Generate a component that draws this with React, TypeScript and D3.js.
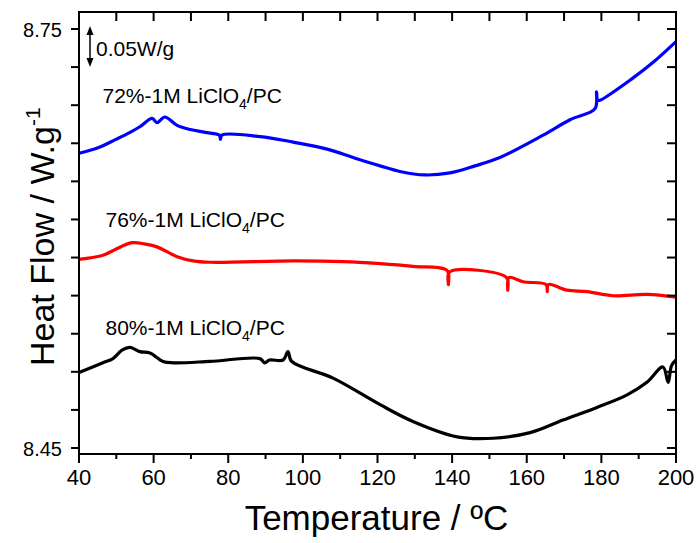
import React from "react";
import * as d3 from "d3";

// DSC heat-flow traces (temperature in °C, heat flow in W/g, offset stacked)
const temp72 = [40, 45.1, 49.9, 53.7, 56.3, 59.6, 60.9, 63.0, 66.3, 69.8, 73.8, 77.6, 77.9, 78.3, 88.5, 97.4, 106.5, 114.0, 120.7, 126.0, 132.7, 139.4, 146.1, 152.8, 164.4, 171.6, 178.3, 178.7, 179.0, 179.6, 188.5, 193.8, 200];
const flow72 = [8.661, 8.665, 8.671, 8.676, 8.680, 8.686, 8.683, 8.687, 8.681, 8.678, 8.676, 8.674, 8.671, 8.674, 8.673, 8.669, 8.664, 8.6575, 8.652, 8.648, 8.6455, 8.647, 8.652, 8.658, 8.674, 8.685, 8.693, 8.705, 8.699, 8.699, 8.715, 8.726, 8.741];

const temp76 = [40, 46.4, 49.6, 54.2, 57.7, 60.9, 66.3, 70.6, 75.1, 97.4, 110.8, 120.7, 129.5, 138.7, 139.0, 139.3, 154.6, 154.9, 155.2, 159.0, 165.2, 165.5, 165.8, 170.8, 176.2, 183.1, 192.2, 200];
const flow76 = [8.585, 8.588, 8.592, 8.597, 8.596, 8.594, 8.587, 8.584, 8.583, 8.584, 8.5835, 8.582, 8.580, 8.577, 8.567, 8.576, 8.572, 8.563, 8.572, 8.569, 8.567, 8.562, 8.567, 8.563, 8.562, 8.559, 8.560, 8.558];

const temp80 = [40, 46.4, 49.1, 51.5, 53.7, 56.3, 59.0, 62.5, 65.2, 75.1, 88.5, 89.8, 91.0, 94.7, 96.0, 97.0, 108.1, 120.7, 129.5, 141.3, 151.0, 160.9, 169.7, 178.8, 186.9, 192.2, 196.5, 197.9, 198.8, 200];
const flow80 = [8.504, 8.511, 8.514, 8.520, 8.522, 8.519, 8.518, 8.512, 8.511, 8.512, 8.514, 8.511, 8.513, 8.513, 8.519, 8.512, 8.500, 8.481, 8.469, 8.458, 8.457, 8.461, 8.470, 8.479, 8.488, 8.497, 8.508, 8.497, 8.509, 8.513];

const seriesNames = ["72%-1M LiClO", "76%-1M LiClO", "80%-1M LiClO"];
const seriesColors = ["#0000ff", "#ff0000", "#000000"];

const xTicks = [40, 60, 80, 100, 120, 140, 160, 180, 200];
const xMinorTicks = [50, 70, 90, 110, 130, 150, 170, 190];
const yLabelTicks = [8.75, 8.45];
const yTickCount = 12;

const W = 697;
const H = 543;
const left = 79;
const right = 676;
const top = 12;
const bottom = 454;

const font = "'Liberation Sans', Arial, Helvetica, sans-serif";

export default function App() {
  const x = d3.scaleLinear().domain([40, 200]).range([left, right]);
  const y = d3.scaleLinear().domain([8.45, 8.75]).range([448, 29]);

  const yTicks = d3.range(yTickCount).map((i) => 8.75 - (i * (8.75 - 8.45)) / (yTickCount - 1));
  const topTicks = d3.range(40, 201, 10);

  const line = d3
    .line<[number, number]>()
    .x((d) => x(d[0]))
    .y((d) => y(d[1]))
    .curve(d3.curveCatmullRom.alpha(0.5));

  const series = [
    { t: temp72, f: flow72 },
    { t: temp76, f: flow76 },
    { t: temp80, f: flow80 },
  ];

  // label anchor points (temperature, heat flow) for each trace
  const labelPos: [number, number][] = [
    [46.3, 8.6968],
    [47.1, 8.6085],
    [47.1, 8.5307],
  ];

  return (
    <svg
      width={W}
      height={H}
      style={{ position: "absolute", left: 0, top: 0, background: "#fff" }}
      fontFamily={font}
    >
      <rect x={0} y={0} width={W} height={H} fill="#fff" />

      {/* traces */}
      {series.map((s, i) => (
        <path
          key={i}
          d={line(s.t.map((t, j) => [t, s.f[j]] as [number, number])) || ""}
          fill="none"
          stroke={seriesColors[i]}
          strokeWidth={3.2}
          strokeLinejoin="round"
        />
      ))}

      {/* frame */}
      <rect x={left} y={top} width={right - left} height={bottom - top} fill="none" stroke="#000" strokeWidth={2} />

      {/* left ticks (outward) and right ticks (inward) */}
      {yTicks.map((v, i) => (
        <g key={i}>
          <line x1={left - 8} x2={left} y1={y(v)} y2={y(v)} stroke="#000" strokeWidth={2} />
          <line x1={right - 9} x2={right} y1={y(v)} y2={y(v)} stroke="#000" strokeWidth={2} />
        </g>
      ))}
      {yLabelTicks.map((v) => (
        <text key={v} x={62} y={y(v) + 8} textAnchor="end" fontSize={20} fill="#000">
          {v.toFixed(2)}
        </text>
      ))}

      {/* bottom ticks */}
      {xTicks.map((v) => (
        <g key={v}>
          <line x1={x(v)} x2={x(v)} y1={bottom} y2={bottom + 9} stroke="#000" strokeWidth={2} />
          <text x={x(v)} y={485} textAnchor="middle" fontSize={22} fill="#000">
            {v}
          </text>
        </g>
      ))}
      {xMinorTicks.map((v) => (
        <line key={v} x1={x(v)} x2={x(v)} y1={bottom} y2={bottom + 5} stroke="#000" strokeWidth={2} />
      ))}
      {/* top ticks (inward) */}
      {topTicks.map((v) => (
        <line key={v} x1={x(v)} x2={x(v)} y1={top} y2={top + 9} stroke="#000" strokeWidth={2} />
      ))}

      {/* axis titles */}
      <text x={(left + right) / 2 - 1} y={530} textAnchor="middle" fontSize={35} fill="#000">
        Temperature / ºC
      </text>
      <text transform={`translate(54,366) rotate(-90)`} fontSize={34} fill="#000">
        Heat Flow / W.g
        <tspan fontSize={21} dy={-14}>-1</tspan>
      </text>

      {/* scale bar */}
      <line x1={90} x2={90} y1={31} y2={62} stroke="#000" strokeWidth={1.5} />
      <path d="M90,26 L86.5,35 L93.5,35 Z" fill="#000" />
      <path d="M90,67 L86.5,58 L93.5,58 Z" fill="#000" />
      <text x={96} y={56} fontSize={21} fill="#000">0.05W/g</text>

      {/* trace labels */}
      {seriesNames.map((name, i) => (
        <text key={i} x={x(labelPos[i][0])} y={y(labelPos[i][1])} fontSize={21} fill="#000">
          {name}
          <tspan fontSize={14} dy={6}>4</tspan>
          <tspan dy={-6}>/PC</tspan>
        </text>
      ))}
    </svg>
  );
}
